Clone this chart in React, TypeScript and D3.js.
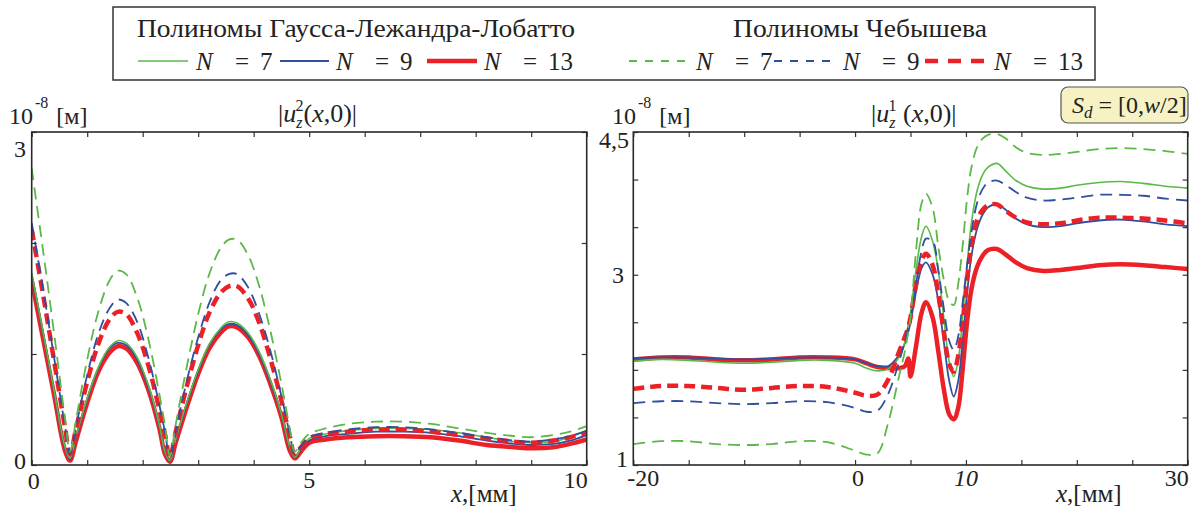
import React, { useEffect, useRef } from 'react';
import * as d3 from 'd3';

const GREEN = '#5cb848';
const BLUE = '#2f4f9f';
const RED = '#ec2128';
const FONT = "'Liberation Serif', 'Times New Roman', Times, serif";

// legend
const legendTitles = ['Полиномы Гаусса-Лежандра-Лобатто', 'Полиномы Чебышева'];
const legendN = ['7', '9', '13'];

// left panel: |u_z^2(x,0)|, x in mm
const xLeft = [0, 0.2, 0.4, 0.6, 0.69, 0.8, 1.0, 1.2, 1.4, 1.55, 1.7, 1.9, 2.1, 2.3, 2.4, 2.49, 2.6, 2.8, 3.0, 3.2, 3.4, 3.55, 3.7, 3.9, 4.1, 4.3, 4.5, 4.65, 4.74, 4.85, 5.0, 5.3, 5.7, 6.2, 6.7, 7.2, 7.7, 8.2, 8.7, 9.0, 9.4, 9.7, 10];
const gllN7Left = [1.73, 1.21, 0.68, 0.16, 0.06, 0.26, 0.6, 0.88, 1.06, 1.12, 1.1, 0.97, 0.72, 0.36, 0.12, 0.04, 0.24, 0.57, 0.86, 1.09, 1.23, 1.29, 1.28, 1.19, 1.02, 0.77, 0.46, 0.16, 0.07, 0.15, 0.24, 0.28, 0.31, 0.33, 0.33, 0.32, 0.29, 0.25, 0.21, 0.2, 0.21, 0.25, 0.31];
const gllN9Left = [1.72, 1.2, 0.67, 0.15, 0.05, 0.25, 0.59, 0.87, 1.05, 1.1, 1.08, 0.95, 0.7, 0.35, 0.11, 0.04, 0.23, 0.56, 0.85, 1.08, 1.22, 1.27, 1.26, 1.17, 1.0, 0.75, 0.45, 0.15, 0.07, 0.14, 0.22, 0.26, 0.28, 0.3, 0.3, 0.29, 0.26, 0.22, 0.19, 0.18, 0.19, 0.22, 0.27];
const gllN13Left = [1.66, 1.15, 0.64, 0.13, 0.04, 0.22, 0.56, 0.84, 1.01, 1.07, 1.05, 0.92, 0.68, 0.33, 0.1, 0.03, 0.21, 0.53, 0.82, 1.05, 1.19, 1.25, 1.24, 1.15, 0.98, 0.73, 0.43, 0.13, 0.06, 0.12, 0.2, 0.23, 0.25, 0.26, 0.26, 0.25, 0.22, 0.18, 0.16, 0.15, 0.16, 0.19, 0.23];
const chebN7Left = [2.67, 1.95, 1.2, 0.42, 0.12, 0.41, 0.95, 1.38, 1.66, 1.75, 1.72, 1.51, 1.14, 0.64, 0.36, 0.08, 0.38, 0.9, 1.36, 1.72, 1.95, 2.03, 2.03, 1.89, 1.61, 1.21, 0.73, 0.33, 0.12, 0.2, 0.28, 0.33, 0.37, 0.39, 0.39, 0.37, 0.33, 0.29, 0.26, 0.25, 0.27, 0.3, 0.35];
const chebN9Left = [2.18, 1.6, 0.98, 0.35, 0.1, 0.35, 0.81, 1.18, 1.41, 1.49, 1.46, 1.29, 0.97, 0.54, 0.3, 0.07, 0.32, 0.77, 1.15, 1.46, 1.66, 1.72, 1.72, 1.6, 1.36, 1.03, 0.62, 0.28, 0.1, 0.17, 0.25, 0.29, 0.32, 0.34, 0.34, 0.32, 0.29, 0.25, 0.22, 0.21, 0.23, 0.26, 0.31];
const chebN13Left = [2.12, 1.55, 0.95, 0.34, 0.1, 0.33, 0.75, 1.09, 1.31, 1.38, 1.36, 1.19, 0.9, 0.5, 0.28, 0.07, 0.31, 0.72, 1.08, 1.37, 1.55, 1.61, 1.61, 1.5, 1.28, 0.96, 0.58, 0.26, 0.1, 0.16, 0.24, 0.28, 0.3, 0.32, 0.32, 0.3, 0.27, 0.24, 0.21, 0.2, 0.22, 0.25, 0.29];

// right panel: |u_z^1(x,0)|
const xRight = [-20, -17.5, -15, -12.5, -10, -7.5, -5, -2.5, 0, 1, 2, 3, 4, 4.5, 4.8, 5, 5.5, 6, 6.4, 7, 7.5, 8, 8.5, 8.9, 9.3, 9.7, 10.1, 10.5, 11, 11.5, 12, 12.8, 13.5, 14.5, 15.5, 17, 18.5, 20, 22, 24, 26, 28, 30];
const gllN7Right = [2.09, 2.11, 2.1, 2.08, 2.07, 2.08, 2.1, 2.1, 2.07, 2.02, 1.99, 2.01, 2.14, 2.3, 2.48, 2.6, 3.05, 3.4, 3.51, 3.35, 3.05, 2.55, 2.08, 1.93, 2.1, 2.55, 3.1, 3.55, 3.88, 4.05, 4.13, 4.17, 4.1, 3.99, 3.93, 3.9, 3.91, 3.94, 3.97, 3.98, 3.96, 3.93, 3.91];
const gllN9Right = [2.12, 2.13, 2.13, 2.12, 2.11, 2.12, 2.13, 2.13, 2.11, 2.07, 2.04, 2.04, 2.16, 2.28, 2.4, 2.5, 2.82, 3.07, 3.13, 3.0, 2.73, 2.3, 1.88, 1.72, 1.88, 2.3, 2.8, 3.2, 3.48, 3.63, 3.71, 3.74, 3.69, 3.59, 3.53, 3.5, 3.51, 3.54, 3.57, 3.58, 3.56, 3.53, 3.51];
const gllN13Right = [2.11, 2.13, 2.13, 2.11, 2.1, 2.11, 2.13, 2.13, 2.11, 2.07, 2.03, 2.02, 2.02, 2.04, 2.12, 1.93, 2.25, 2.6, 2.71, 2.55, 2.2, 1.8, 1.53, 1.48, 1.6, 2.0, 2.5, 2.85, 3.08, 3.2, 3.26, 3.27, 3.22, 3.13, 3.07, 3.04, 3.05, 3.07, 3.1, 3.11, 3.1, 3.08, 3.06];
const chebN7Right = [1.22, 1.25, 1.25, 1.22, 1.21, 1.22, 1.25, 1.24, 1.15, 1.11, 1.12, 1.45, 1.95, 2.2, 2.4, 2.55, 3.25, 3.75, 3.85, 3.7, 3.3, 2.95, 2.72, 2.68, 2.9, 3.3, 3.8, 4.13, 4.34, 4.43, 4.47, 4.48, 4.44, 4.34, 4.28, 4.26, 4.27, 4.29, 4.32, 4.33, 4.32, 4.3, 4.27];
const chebN9Right = [1.65, 1.67, 1.67, 1.65, 1.64, 1.65, 1.67, 1.66, 1.6, 1.56, 1.57, 1.75, 2.1, 2.3, 2.45, 2.55, 2.9, 3.25, 3.38, 3.35, 3.05, 2.65, 2.3, 2.21, 2.35, 2.7, 3.1, 3.45, 3.75, 3.9, 3.97, 3.99, 3.95, 3.87, 3.81, 3.78, 3.79, 3.81, 3.84, 3.84, 3.83, 3.8, 3.78];
const chebN13Right = [1.8, 1.83, 1.83, 1.81, 1.79, 1.81, 1.83, 1.82, 1.76, 1.73, 1.74, 1.9, 2.2, 2.35, 2.45, 2.55, 2.9, 3.15, 3.22, 3.1, 2.8, 2.4, 2.06, 1.98, 2.15, 2.5, 2.95, 3.3, 3.57, 3.68, 3.73, 3.74, 3.68, 3.6, 3.55, 3.53, 3.54, 3.57, 3.6, 3.6, 3.59, 3.57, 3.54];

type Part = { t: string; i?: boolean; s?: number; dx?: number; dy?: number; x?: number };

const rich = (g: any, x: number, y: number, size: number, parts: Part[], anchor = 'start') => {
  const t = g.append('text')
    .attr('x', x).attr('y', y)
    .attr('text-anchor', anchor)
    .style('font-family', FONT)
    .style('font-size', `${size}px`)
    .style('fill', '#222')
    .style('white-space', 'pre');
  parts.forEach(p => {
    const s = t.append('tspan').text(p.t);
    if (p.i) s.style('font-style', 'italic');
    if (p.s) s.style('font-size', `${p.s}px`);
    if (p.x !== undefined) s.attr('x', p.x);
    if (p.dx) s.attr('dx', p.dx);
    if (p.dy) s.attr('dy', p.dy);
  });
  return t;
};

const styles = [
  { color: RED, width: 4.5, dash: null },
  { color: BLUE, width: 1.8, dash: null },
  { color: GREEN, width: 1.6, dash: null },
  { color: RED, width: 4.5, dash: '11,6' },
  { color: BLUE, width: 1.8, dash: '12,7' },
  { color: GREEN, width: 1.8, dash: '12,7' },
];

const drawPanel = (svg: any, cfg: any) => {
  const { id, left, right, top, bottom, xDomain, yDomain, xs, series, xTicks, yTicks } = cfg;
  const x = d3.scaleLinear().domain(xDomain).range([left, right]);
  const y = d3.scaleLinear().domain(yDomain).range([bottom, top]);

  svg.append('clipPath').attr('id', id)
    .append('rect').attr('x', left).attr('y', top).attr('width', right - left).attr('height', bottom - top);

  const line = d3.line<number>()
    .x((d, i) => x(xs[i]))
    .y(d => y(d))
    .curve(d3.curveCatmullRom.alpha(0.5));

  const plot = svg.append('g').attr('clip-path', `url(#${id})`);
  series.forEach((vals: number[], k: number) => {
    const st = styles[k];
    plot.append('path')
      .attr('d', line(vals))
      .attr('fill', 'none')
      .attr('stroke', st.color)
      .attr('stroke-width', st.width)
      .attr('stroke-dasharray', st.dash)
      .attr('stroke-linejoin', 'round');
  });

  // ticks on all four sides, pointing inward
  const axes = [
    { a: d3.axisBottom(x).tickValues(xTicks), t: `translate(0,${bottom})` },
    { a: d3.axisTop(x).tickValues(xTicks), t: `translate(0,${top})` },
    { a: d3.axisLeft(y).tickValues(yTicks), t: `translate(${left},0)` },
    { a: d3.axisRight(y).tickValues(yTicks), t: `translate(${right},0)` },
  ];
  axes.forEach(ax => {
    const g = svg.append('g').attr('transform', ax.t)
      .call(ax.a.tickSize(-5).tickFormat(() => ''));
    g.select('.domain').remove();
    g.selectAll('line').attr('stroke', '#333').attr('stroke-width', 1.2);
  });

  svg.append('rect')
    .attr('x', left).attr('y', top)
    .attr('width', right - left).attr('height', bottom - top)
    .attr('fill', 'none').attr('stroke', '#2a2a2a').attr('stroke-width', 1.6);

  return { x, y };
};

const App = () => {
  const ref = useRef<SVGSVGElement>(null);

  useEffect(() => {
    const svg = d3.select(ref.current);
    svg.selectAll('*').remove();

    // legend box
    svg.append('rect').attr('x', 113).attr('y', 7).attr('width', 982).attr('height', 73)
      .attr('fill', 'white').attr('stroke', '#333').attr('stroke-width', 1.5);
    rich(svg, 137, 37, 25, [{ t: legendTitles[0] }]).attr('textLength', 438).attr('lengthAdjust', 'spacingAndGlyphs');
    rich(svg, 733, 37, 25, [{ t: legendTitles[1] }]).attr('textLength', 254).attr('lengthAdjust', 'spacingAndGlyphs');

    const legendLines = [[138, 188], [280, 329], [427, 477], [629, 690], [774, 834], [925, 987]];
    const legendText = [196, 336, 484, 696, 843, 994];
    const legendDash = [null, null, null, '8,8', '8,8', '13,10'];
    const legendStyle = [styles[2], styles[1], styles[0], styles[5], styles[4], styles[3]];
    legendLines.forEach((ln, k) => {
      const st = legendStyle[k];
      svg.append('line').attr('x1', ln[0]).attr('x2', ln[1]).attr('y1', 61).attr('y2', 61)
        .attr('stroke', st.color).attr('stroke-width', st.width).attr('stroke-dasharray', legendDash[k]);
      const x0 = legendText[k];
      rich(svg, x0, 70, 25, [
        { t: 'N', i: true },
        { t: '=', x: x0 + 39 },
        { t: legendN[k % 3], x: x0 + 64 },
      ]);
    });

    // left panel
    const L = drawPanel(svg, {
      id: 'clipL', left: 31.7, right: 586.7, top: 132, bottom: 465,
      xDomain: [0, 10], yDomain: [0, 3], xs: xLeft,
      series: [gllN13Left, gllN9Left, gllN7Left, chebN13Left, chebN9Left, chebN7Left],
      xTicks: d3.range(0, 11, 1), yTicks: [0, 1, 2, 3],
    });
    rich(svg, L.x(0) + 2, 489, 24, [{ t: '0' }], 'middle');
    rich(svg, L.x(5), 488, 24, [{ t: '5' }], 'middle');
    rich(svg, L.x(10) + 1, 488, 24, [{ t: '10' }], 'end');
    rich(svg, 26, L.y(0) + 4, 24, [{ t: '0' }], 'end');
    rich(svg, 26, L.y(3) + 25, 24, [{ t: '3' }], 'end');
    rich(svg, 451, 502, 25, [{ t: 'x', i: true }, { t: ',[мм]' }]);
    rich(svg, 9, 124, 24, [{ t: '10' }, { t: '-8', s: 16, dx: 2, dy: -16 }, { t: '[м]', dx: 8, dy: 16 }]);
    rich(svg, 278, 122, 26, [
      { t: '|' }, { t: 'u', i: true }, { t: 'z', i: true, s: 16, dy: 6 },
      { t: '2', s: 16, dx: -7, dy: -17 }, { t: '(', dy: 11 }, { t: 'x', i: true }, { t: ',0)|' },
    ]);

    // right panel
    const R = drawPanel(svg, {
      id: 'clipR', left: 633.3, right: 1187.7, top: 132, bottom: 465,
      xDomain: [-20, 30], yDomain: [1, 4.5], xs: xRight,
      series: [gllN13Right, gllN9Right, gllN7Right, chebN13Right, chebN9Right, chebN7Right],
      xTicks: d3.range(-20, 31, 5), yTicks: d3.range(1, 4.51, 0.5),
    });
    rich(svg, R.x(-20) - 6, 486, 24, [{ t: '-20' }]);
    rich(svg, R.x(0) + 3, 486, 24, [{ t: '0' }], 'middle');
    rich(svg, R.x(10), 486, 24, [{ t: '10', i: true }], 'middle');
    rich(svg, R.x(30) + 1, 486, 24, [{ t: '30' }], 'end');
    rich(svg, 628, R.y(1) + 2, 24, [{ t: '1' }], 'end');
    rich(svg, 624, R.y(3) + 8, 24, [{ t: '3' }], 'end');
    rich(svg, 629, R.y(4.5) + 16, 24, [{ t: '4,5' }], 'end');
    rich(svg, 1056, 502, 25, [{ t: 'x', i: true }, { t: ',[мм]' }]);
    rich(svg, 612, 124, 24, [{ t: '10' }, { t: '-8', s: 16, dx: 2, dy: -16 }, { t: '[м]', dx: 8, dy: 16 }]);
    rich(svg, 871, 122, 26, [
      { t: '|' }, { t: 'u', i: true }, { t: 'z', i: true, s: 16, dy: 6 },
      { t: '1', s: 16, dx: -7, dy: -17 }, { t: ' (', dy: 11 }, { t: 'x', i: true }, { t: ',0)|' },
    ]);

    // S_d box
    svg.append('rect').attr('x', 1061).attr('y', 87).attr('width', 127).attr('height', 36)
      .attr('rx', 7).attr('fill', '#f6f2c4').attr('stroke', '#555').attr('stroke-width', 1.2);
    rich(svg, 1072, 113, 24, [
      { t: 'S', i: true }, { t: 'd', i: true, s: 17, dy: 5 }, { t: ' = [0,', dy: -5 },
      { t: 'w', i: true }, { t: '/2]' },
    ]);
  }, []);

  return (
    <svg ref={ref} width={1200} height={510}
      style={{ position: 'absolute', left: 0, top: 0, background: 'white' }} />
  );
};

export default App;
